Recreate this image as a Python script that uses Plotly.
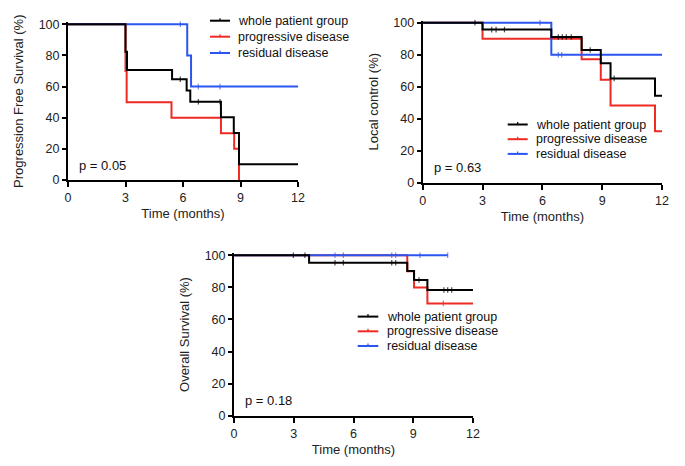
import plotly.graph_objects as go

W, H = 685, 466

# ---------------- data ----------------
# Progression free survival
pfs_whole_t = [0, 3.0, 3.08, 5.43, 6.19, 6.38, 7.98, 8.65, 8.92, 12]
pfs_whole_s = [100, 82.4, 70.6, 64.7, 57.5, 50.3, 40.3, 30.2, 10.1, 10.1]
pfs_whole_c = [5.86, 6.8, 7.93]
pfs_prog_t = [0, 3.0, 3.06, 5.4, 7.98, 8.67, 8.92]
pfs_prog_s = [100, 70, 50, 40, 30, 20, 0]
pfs_prog_c = []
pfs_resid_t = [0, 6.22, 6.42, 12]
pfs_resid_s = [100, 80, 60, 60]
pfs_resid_c = [5.86, 6.8, 7.93]

# Local control
lc_whole_t = [0, 3.0, 6.45, 7.97, 8.93, 9.42, 11.65, 12]
lc_whole_s = [100, 95.7, 91.1, 82.9, 74.6, 65.2, 54.3, 54.3]
lc_whole_c = [2.62, 3.46, 3.68, 4.1, 6.8, 7.0, 7.2, 7.45, 8.4, 9.6]
lc_prog_t = [0, 3.0, 7.97, 8.93, 9.42, 11.65, 12]
lc_prog_s = [100, 90, 77.1, 64.3, 48.2, 32.1, 32.1]
lc_prog_c = []
lc_resid_t = [0, 6.45, 12]
lc_resid_s = [100, 80, 80]
lc_resid_c = [5.88, 6.8, 6.97]

# Overall survival
os_whole_t = [0, 3.77, 8.7, 9.04, 9.71, 12]
os_whole_s = [100, 95.4, 90.2, 84.6, 78.4, 78.4]
os_whole_c = [2.98, 3.56, 5.07, 5.49, 7.92, 8.12, 9.29, 10.54, 10.73, 10.93]
os_prog_t = [0, 8.7, 9.04, 9.71, 12]
os_prog_s = [100, 90, 80, 70, 70]
os_prog_c = [10.51]
os_resid_t = [0, 10.73]
os_resid_s = [100, 100]
os_resid_c = [5.07, 5.49, 7.92, 8.12, 9.34, 10.73]

series_names = ["whole patient group", "progressive disease", "residual disease"]
p_values = ["p = 0.05", "p = 0.63", "p = 0.18"]
y_titles = ["Progression Free Survival (%)", "Local control (%)", "Overall Survival (%)"]
x_title = "Time (months)"
x_ticks = [0, 3, 6, 9, 12]
y_ticks = [0, 20, 40, 60, 80, 100]

# ---------------- style ----------------
FONT = "Liberation Sans, Arial, Helvetica, sans-serif"
COLORS = {"whole patient group": "#000000",
          "progressive disease": "#ee2a24",
          "residual disease": "#2a55f0"}
Y_TOP = 101.2  # small headroom so lines at 100 % are not clipped

panels = [
    dict(data={"whole patient group": (pfs_whole_t, pfs_whole_s, pfs_whole_c),
               "progressive disease": (pfs_prog_t, pfs_prog_s, pfs_prog_c),
               "residual disease": (pfs_resid_t, pfs_resid_s, pfs_resid_c)},
         box=(68, 298, 24.3, 180.0), legend=dict(x0=210, x1=230, tx=236, rows=[20.7, 36.7, 53.0])),
    dict(data={"whole patient group": (lc_whole_t, lc_whole_s, lc_whole_c),
               "progressive disease": (lc_prog_t, lc_prog_s, lc_prog_c),
               "residual disease": (lc_resid_t, lc_resid_s, lc_resid_c)},
         box=(422.7, 662, 22.7, 182.7), legend=dict(x0=507.7, x1=527.7, tx=534, rows=[124.5, 139.2, 153.9])),
    dict(data={"whole patient group": (os_whole_t, os_whole_s, os_whole_c),
               "progressive disease": (os_prog_t, os_prog_s, os_prog_c),
               "residual disease": (os_resid_t, os_resid_s, os_resid_c)},
         box=(234, 473, 255.3, 415.7), legend=dict(x0=357.7, x1=378.3, tx=385, rows=[316.6, 331.3, 346.0])),
]


def px(x):
    return x / W


def py(y):
    return 1 - y / H


def step_value(ts, ss, t):
    v = ss[0]
    for ti, si in zip(ts, ss):
        if ti <= t:
            v = si
    return v


fig = go.Figure()
shapes = []
annotations = []

draw_order = ["progressive disease", "residual disease", "whole patient group"]

for i, panel in enumerate(panels):
    sfx = "" if i == 0 else str(i + 1)
    xref, yref = "x" + sfx, "y" + sfx
    for name in draw_order:
        ts, ss, cs = panel["data"][name]
        pts = [(t, s, 0) for t, s in zip(ts, ss)]
        for c in cs:
            pts.append((c, step_value(ts, ss, c), 4))
        pts.sort(key=lambda p: (p[0], -p[2]))
        col = COLORS[name]
        fig.add_trace(go.Scatter(
            x=[p[0] for p in pts], y=[p[1] for p in pts],
            mode="lines+markers", line=dict(color=col, width=2, shape="hv"),
            marker=dict(symbol="line-ns", size=[p[2] for p in pts],
                        color=col, line=dict(color=col, width=1.2)),
            name=name, showlegend=False, cliponaxis=False,
            xaxis=xref, yaxis=yref))

    x0, x1, y0, y1 = panel["box"]
    per = (y1 - y0) / 100.0
    y0_ext = y0 - (Y_TOP - 100) * per
    common = dict(showline=True, linewidth=2, linecolor="black", ticks="outside",
                  tickwidth=1.5, tickcolor="black", showgrid=False, zeroline=False,
                  automargin=False,
                  tickfont=dict(family=FONT, size=12.5, color="#222"), fixedrange=True)
    fig.layout["xaxis" + sfx] = dict(
        domain=[px(x0), px(x1)], range=[0, 12], tickvals=x_ticks, ticklen=5,
        anchor=yref, title=dict(text=x_title, font=dict(family=FONT, size=13, color="#222"), standoff=5),
        **common)
    fig.layout["yaxis" + sfx] = dict(
        domain=[py(y1), py(y0_ext)], range=[0, Y_TOP], tickvals=y_ticks, ticklen=4,
        anchor=xref, title=dict(text=y_titles[i], font=dict(family=FONT, size=13, color="#222"), standoff=12),
        **common)

    # p-value
    annotations.append(dict(xref=xref, yref=yref, x=0.45, y=9.5, text=p_values[i],
                            showarrow=False, xanchor="left", yanchor="middle",
                            font=dict(family=FONT, size=13, color="#111")))
    # legend (drawn by hand to match the compact original layout)
    lg = panel["legend"]
    for name, row in zip(series_names, lg["rows"]):
        col = COLORS[name]
        shapes.append(dict(type="line", xref="paper", yref="paper",
                           x0=px(lg["x0"]), x1=px(lg["x1"]), y0=py(row), y1=py(row),
                           line=dict(color=col, width=2)))
        mid = (lg["x0"] + lg["x1"]) / 2
        shapes.append(dict(type="line", xref="paper", yref="paper",
                           x0=px(mid), x1=px(mid), y0=py(row), y1=py(row - 2.5),
                           line=dict(color=col, width=1.2)))
        annotations.append(dict(xref="paper", yref="paper", x=px(lg["tx"]), y=py(row),
                                text=name, showarrow=False, xanchor="left", yanchor="middle",
                                font=dict(family=FONT, size=12.5, color="#111")))

fig.update_layout(
    width=W, height=H, margin=dict(l=0, r=0, t=0, b=0),
    paper_bgcolor="white", plot_bgcolor="white",
    font=dict(family=FONT, size=12, color="#222"),
    shapes=shapes, annotations=annotations, showlegend=False,
)

fig.write_html("out.html",
               config={"displayModeBar": False},
               post_script="document.body.style.margin='0px';document.body.style.overflow='hidden';")
